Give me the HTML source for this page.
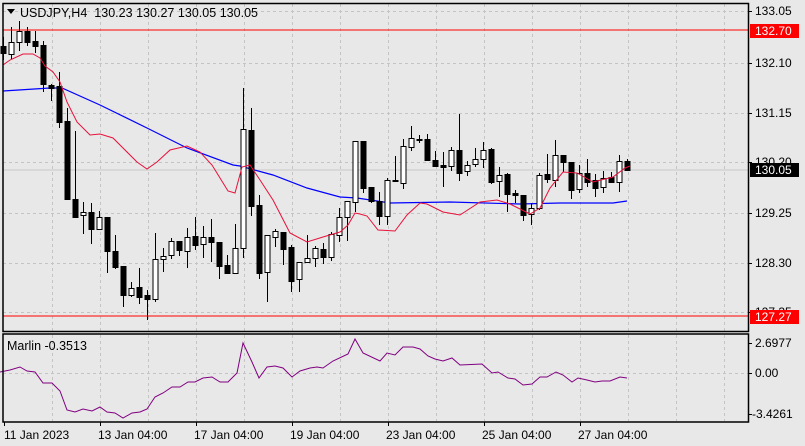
<!DOCTYPE html>
<html><head><meta charset="utf-8"><style>
html,body{margin:0;padding:0;background:#e8e8e8;}
svg{display:block;font-family:"Liberation Sans",sans-serif;}
</style></head><body>
<svg id="c" width="805" height="446" viewBox="0 0 805 446" xmlns="http://www.w3.org/2000/svg">
<rect width="805" height="446" fill="#e8e8e8"/>
<g id="grid" stroke="#c4c4c4" stroke-dasharray="3,3" stroke-width="1"></g>
<line x1="3" y1="170" x2="748" y2="170" stroke="#c8c8c8"/>
<polyline fill="none" stroke="#0000ff" stroke-width="1.2" points="3,91 50,88 62,88 100,105 147,128 187,148 233,165 240,166 273,175 307,188 340,197 357,198 390,203 450,202 520,204 560,203 613,203 627,201"/>
<g id="candles"></g>
<polyline fill="none" stroke="#e8103a" stroke-width="1" points="3,65 10,60 23,54 33,54 40,58 45,66 53,72 60,82 67,102 77,122 90,135 100,134 113,138 123,148 137,162 147,169 157,162 170,150 187,146 200,152 212,165 220,178 228,191 235,193 242,167 250,165 260,180 273,200 290,233 307,242 323,237 340,232 348,225 355,213 360,214 367,216 378,230 395,231 407,215 420,203 427,204 443,212 460,215 480,202 497,200 510,204 530,214 540,208 550,188 563,172 577,173 593,182 613,177 625,168 630,166"/>
<line x1="3" y1="30" x2="748" y2="30" stroke="#ff0000"/>
<line x1="3" y1="316" x2="748" y2="316" stroke="#ff0000"/>
<polyline fill="none" stroke="#800080" stroke-width="1" points="0,372 10,370 20,367 27,371 35,372 43,383 52,383 60,391 67,410 75,412 83,409 92,411 100,407 107,412 115,413 123,418 132,413 140,412 147,409 155,397 163,393 172,387 180,387 188,382 195,382 203,378 212,377 220,382 228,382 237,373 243,343 252,362 259,378 267,367 275,366 283,368 292,377 300,371 310,368 317,367 323,368 333,361 348,354 355,339 363,353 380,361 387,353 395,355 403,347 413,347 420,349 428,356 435,359 443,361 452,358 460,365 482,364 492,373 498,372 508,378 515,379 523,385 532,384 540,377 547,377 556,372 563,375 572,382 578,378 587,380 595,382 602,381 610,381 620,377 627,378"/>
<g fill="none" stroke="#000" stroke-width="1.5">
<rect x="3" y="3.5" width="745.5" height="328"/>
<rect x="3" y="334" width="745.5" height="88"/>
</g>
<g id="ticks" stroke="#000"></g>
<g font-size="12.5" fill="#000">
<text x="20" y="17" textLength="238" lengthAdjust="spacing">USDJPY,H4&#160;&#160;130.23 130.27 130.05 130.05</text>
<text x="7" y="350">Marlin -0.3513</text>
</g>
<polygon points="7,9 15,9 11,14" fill="#000"/>
<g font-size="12" fill="#000" id="plabels">
<text x="755" y="15">133.05</text>
<text x="755" y="67">132.10</text>
<text x="755" y="117">131.15</text>
<text x="755" y="166">130.20</text>
<text x="755" y="217">129.25</text>
<text x="755" y="267">128.30</text>
<text x="755" y="316">127.35</text>
<text x="755" y="347">2.6977</text>
<text x="755" y="377">0.00</text>
<text x="752" y="418">-3.4261</text>
</g>
<rect x="750" y="24" width="49" height="14" fill="#ff0000"/>
<text x="755" y="35" font-size="12" fill="#fff">132.70</text>
<rect x="750" y="310" width="49" height="14" fill="#ff0000"/>
<text x="755" y="321" font-size="12" fill="#fff">127.27</text>
<rect x="750" y="163" width="49" height="14" fill="#000"/>
<text x="755" y="174" font-size="12" fill="#fff">130.05</text>
<g font-size="12" fill="#000">
<text x="4" y="439">11 Jan 2023</text>
<text x="98" y="439">13 Jan 04:00</text>
<text x="194" y="439">17 Jan 04:00</text>
<text x="290" y="439">19 Jan 04:00</text>
<text x="386" y="439">23 Jan 04:00</text>
<text x="482" y="439">25 Jan 04:00</text>
<text x="578" y="439">27 Jan 04:00</text>
</g>
</svg>
<script>
(function(){
var NS="http://www.w3.org/2000/svg";
function el(p,t,a){var e=document.createElementNS(NS,t);for(var k in a)e.setAttribute(k,a[k]);p.appendChild(e);return e;}
var g=document.getElementById('grid');
for(var x=52;x<748;x+=48){el(g,'line',{x1:x+.5,y1:4,x2:x+.5,y2:331});el(g,'line',{x1:x+.5,y1:335,x2:x+.5,y2:421});}
[11,63,113,162,213,263,312].forEach(function(y){el(g,'line',{x1:3,y1:y+.5,x2:748,y2:y+.5});});
el(g,'line',{x1:3,y1:373.5,x2:748,y2:373.5});
var t=document.getElementById('ticks');
[11,63,113,162,213,263,312,343,373,414].forEach(function(y){el(t,'line',{x1:748,y1:y+.5,x2:752,y2:y+.5});});
[4,100,196,292,388,484,580].forEach(function(x){el(t,'line',{x1:x+.5,y1:422,x2:x+.5,y2:426});});
var d=[[46,37,60,53],[54,27,59,42],[42,21,51,31],[31,27,46,42],[41,31,53,46],[45,41,92,84],[85,84,101,88],[86,72,128,122],[121,108,199,199],[199,131,217,217],
[215,202,234,212],[212,203,244,229],[229,211,229,217],[217,217,273,251],[251,235,269,267],[266,266,307,295],[295,282,297,288],[287,268,304,297],[295,290,320,299],[299,233,302,259],
[259,248,272,256],[255,238,259,241],[241,241,256,250],[251,228,268,237],[236,217,250,245],[244,226,258,237],[237,219,262,242],[242,242,279,266],[265,255,273,273],[273,224,273,248],
[248,88,258,129],[130,108,216,206],[205,195,279,273],[272,235,302,235],[237,229,247,231],[232,232,265,249],[247,245,292,281],[279,262,292,262],[262,235,262,258],[258,246,267,248],
[249,243,264,257],[257,232,261,234],[235,208,242,217],[217,201,241,201],[202,141,212,141],[141,141,193,188],[187,187,203,201],[201,192,225,216],[216,178,225,180],[181,156,181,180],
[183,139,189,146],[147,126,151,138],[139,135,143,140],[139,134,160,160],[160,151,167,166],[165,152,187,167],[166,147,171,150],[150,114,181,173],[171,161,176,165],[164,148,167,159],
[159,142,168,150],[149,148,184,182],[181,167,197,175],[174,173,212,194],[193,190,203,195],[195,195,221,215],[214,203,225,208],[208,173,210,175],[174,154,183,179],[180,140,187,155],
[155,155,172,162],[162,162,199,190],[189,165,193,173],[173,159,187,182],[180,174,197,188],[187,171,193,178],[177,172,182,182],[182,155,192,161],[161,159,170,170]];
var c=document.getElementById('candles');
d.forEach(function(v,k){
var x=Math.round(3.3+8*k)+.5;var o=v[0],h=v[1],l=v[2],cl=v[3];
el(c,'line',{x1:x,y1:h,x2:x,y2:l,stroke:'#000'});
var top=Math.min(o,cl),bot=Math.max(o,cl);if(bot-top<1)bot=top+1;
var white=cl<o;
el(c,'rect',{x:x-2.5,y:top+.5,width:5,height:bot-top,fill:white?'#fff':'#000',stroke:'#000'});
});
})();
</script>
</body></html>
